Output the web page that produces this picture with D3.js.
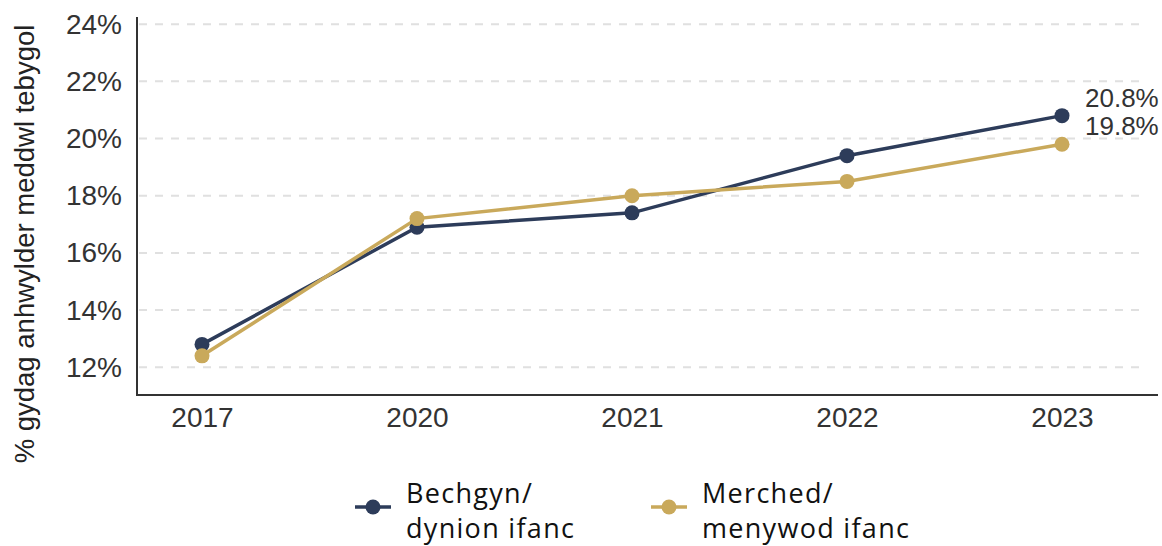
<!DOCTYPE html>
<html>
<head>
<meta charset="utf-8">
<script src="https://cdn.jsdelivr.net/npm/d3@7"></script>
<style>
  body { margin: 0; background: #fff; }
  svg { display: block; }
</style>
</head>
<body>
<div id="chart"></div>
<script>
// data
const years = ['2017', '2020', '2021', '2022', '2023'];
const boys = [12.8, 16.9, 17.4, 19.4, 20.8];
const girls = [12.4, 17.2, 18.0, 18.5, 19.8];
const yTicks = [12, 14, 16, 18, 20, 22, 24];
const seriesNames = [['Bechgyn/', 'dynion ifanc'], ['Merched/', 'menywod ifanc']];
const colors = ['#2d3c5a', '#c9a95b'];

const W = 1162, H = 546;
const axisFont = '"Liberation Sans", Arial, sans-serif';

const svg = d3.select('#chart').append('svg')
    .attr('width', W)
    .attr('height', H);

const plot = {left: 137, right: 1158, top: 17, bottom: 395};

const x = d3.scalePoint().domain(years).range([202, 1062]);
const y = d3.scaleLinear().domain([11.03, 24.25]).range([plot.bottom, plot.top]);

// gridlines
svg.append('g')
  .selectAll('line')
  .data(yTicks)
  .join('line')
    .attr('x1', plot.left + 2)
    .attr('x2', 1145)
    .attr('y1', d => y(d))
    .attr('y2', d => y(d))
    .attr('stroke', '#e0e0e0')
    .attr('stroke-width', 2)
    .attr('stroke-dasharray', '8,8');

// y axis
const yAxis = svg.append('g')
    .attr('transform', `translate(${plot.left},0)`)
    .call(d3.axisLeft(y).tickValues(yTicks).tickFormat(d => d + '%').tickSize(0).tickPadding(15));
yAxis.select('.domain').remove();
yAxis.selectAll('text')
    .style('font-family', axisFont)
    .style('font-size', '28px')
    .attr('fill', '#333');

// x axis
const xAxis = svg.append('g')
    .attr('transform', `translate(0,${plot.bottom})`)
    .call(d3.axisBottom(x).tickSize(0).tickPadding(12));
xAxis.select('.domain').remove();
xAxis.selectAll('text')
    .style('font-family', axisFont)
    .style('font-size', '28px')
    .attr('fill', '#333');

// axis lines
svg.append('path')
    .attr('d', `M${plot.left},${plot.top}V${plot.bottom}H${plot.right}`)
    .attr('fill', 'none')
    .attr('stroke', '#333')
    .attr('stroke-width', 2);

// y title
svg.append('text')
    .attr('transform', `translate(34,244) rotate(-90)`)
    .attr('text-anchor', 'middle')
    .style('font-family', axisFont)
    .style('font-size', '27.5px')
    .attr('fill', '#222')
    .text('% gydag anhwylder meddwl tebygol');

// lines + points
const line = d3.line().x((d, i) => x(years[i])).y(d => y(d));
[boys, girls].forEach((vals, s) => {
  svg.append('path')
      .datum(vals)
      .attr('d', line)
      .attr('fill', 'none')
      .attr('stroke', colors[s])
      .attr('stroke-width', 3.5);
  svg.append('g')
    .selectAll('circle')
    .data(vals)
    .join('circle')
      .attr('cx', (d, i) => x(years[i]))
      .attr('cy', d => y(d))
      .attr('r', 7.5)
      .attr('fill', colors[s]);
});

// end labels
[[boys, 107], [girls, 135]].forEach(([vals, ty]) => {
  svg.append('text')
      .attr('x', x(years[years.length - 1]) + 23)
      .attr('y', ty)
      .style('font-family', axisFont)
      .style('font-size', '26px')
      .attr('fill', '#333')
      .text(vals[vals.length - 1].toFixed(1) + '%');
});

// legend
const legendX = [355, 651];
seriesNames.forEach((lines, s) => {
  const g = svg.append('g').attr('transform', `translate(${legendX[s]},507)`);
  g.append('line')
      .attr('x1', 0).attr('x2', 36)
      .attr('stroke', colors[s])
      .attr('stroke-width', 3.5);
  g.append('circle').attr('cx', 18).attr('r', 7.5).attr('fill', colors[s]);
  g.append('text')
      .attr('y', -4)
      .style('font-family', '"Open Sans", "Noto Sans", sans-serif')
      .style('font-size', '27px')
      .style('letter-spacing', '1.3px')
      .attr('fill', '#111')
    .selectAll('tspan')
    .data(lines)
    .join('tspan')
      .attr('x', 51)
      .attr('dy', (d, i) => i ? 35 : 0)
      .text(d => d);
});
</script>
</body>
</html>
